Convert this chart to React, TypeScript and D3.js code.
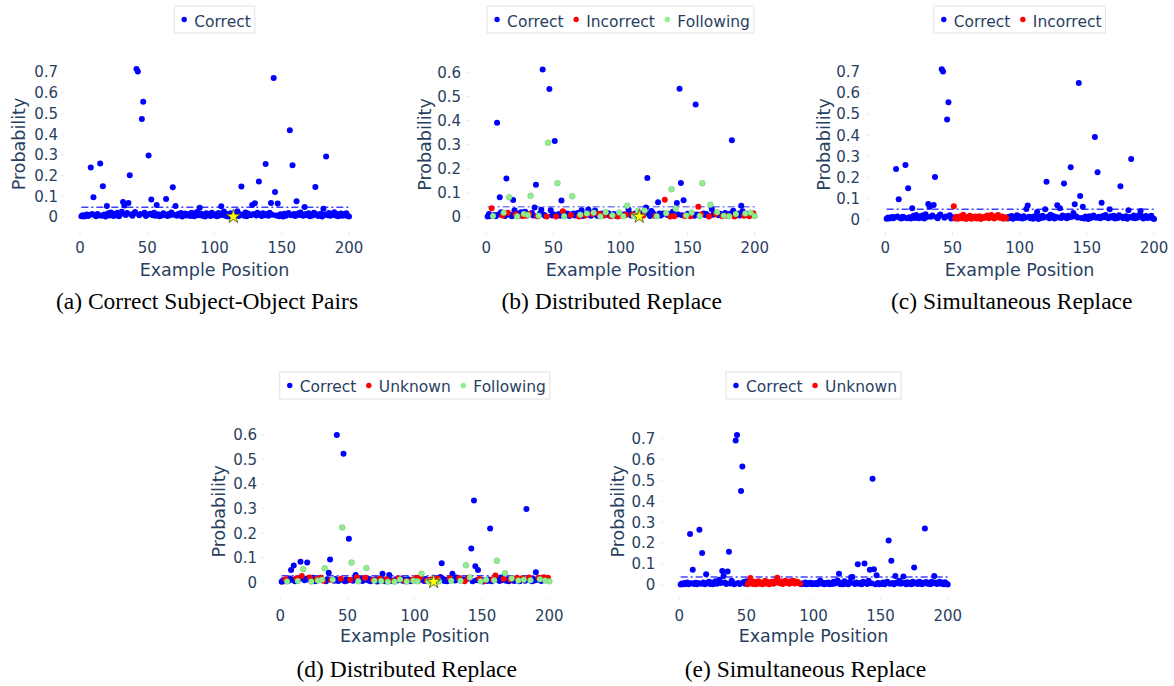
import * as d3 from "d3";

// ---- data (example positions 1..200) ----
const positions = d3.range(1, 201);

const aCorrect = [
  .004,.008,.003,.006,.012,.005,.01,.239,.015,.095,
  .008,.004,.014,.009,.258,.006,.148,.012,.003,.053,
  .018,.007,.022,.011,.005,.016,.009,.02,.004,.013,
  .025,.073,.055,.01,.019,.068,.202,.012,.006,.017,
  .024,.715,.702,.008,.014,.473,.556,.02,.005,.011,
  .297,.016,.084,.009,.021,.006,.058,.013,.004,.01,
  .007,.018,.012,.087,.005,.015,.009,.022,.144,.011,
  .053,.006,.014,.008,.019,.003,.012,.017,.007,.01,
  .015,.005,.02,.011,.004,.013,.024,.008,.045,.016,
  .006,.012,.003,.018,.009,.014,.005,.021,.01,.007,
  .013,.004,.019,.008,.052,.011,.026,.006,.015,.003,
  .012,.018,.007,.002,.016,.009,.028,.005,.013,.147,
  .011,.006,.022,.004,.017,.01,.008,.058,.015,.066,
  .007,.02,.171,.012,.005,.018,.009,.256,.014,.006,
  .021,.068,.011,.671,.121,.007,.065,.004,.013,.009,
  .003,.016,.006,.011,.019,.419,.008,.25,.014,.005,
  .076,.017,.01,.022,.012,.006,.048,.015,.009,.018,
  .004,.011,.007,.02,.145,.013,.005,.009,.016,.003,
  .04,.012,.292,.008,.019,.006,.014,.01,.023,.007,
  .015,.004,.011,.017,.006,.013,.009,.018,.005,.003,
];

const bProb = [
  .002,.012,.004,.036,.004,.008,.003,.391,.01,.082,
  .02,.006,.018,.004,.16,.018,.082,.009,.003,.071,
  .028,.01,.003,.015,.006,.02,.004,.012,.022,.005,
  .008,.012,.088,.017,.006,.039,.134,.003,.005,.014,
  .03,.612,.009,.004,.002,.308,.531,.028,.006,.011,
  .315,.002,.14,.012,.005,.068,.024,.003,.016,.009,
  .013,.004,.008,.086,.015,.006,.011,.017,.002,.009,
  .028,.004,.01,.006,.014,.031,.02,.005,.012,.018,
  .027,.009,.004,.013,.002,.015,.007,.006,.02,.011,
  .016,.005,.003,.007,.012,.009,.004,.002,.019,.008,
  .005,.003,.011,.008,.047,.031,.013,.006,.01,.004,
  .014,.007,.025,.002,.009,.016,.006,.027,.039,.162,
  .012,.004,.025,.018,.009,.004,.003,.061,.015,.006,
  .011,.015,.072,.016,.008,.012,.002,.115,.022,.003,
  .035,.058,.01,.532,.141,.007,.069,.004,.006,.013,
  .009,.003,.018,.012,.005,.466,.01,.043,.004,.01,
  .14,.015,.008,.012,.006,.002,.051,.033,.009,.016,
  .012,.02,.007,.013,.01,.003,.005,.017,.009,.004,
  .003,.014,.318,.026,.002,.012,.008,.015,.006,.047,
  .024,.005,.014,.009,.013,.003,.018,.008,.016,.004,
];

const cProb = [
  .003,.009,.004,.007,.011,.005,.01,.239,.013,.095,
  .006,.004,.012,.008,.258,.005,.147,.01,.004,.052,
  .017,.006,.02,.01,.005,.015,.008,.019,.004,.024,
  .011,.073,.06,.012,.018,.068,.201,.01,.005,.016,
  .023,.713,.702,.007,.013,.474,.556,.019,.004,.01,
  .062,.004,.012,.003,.008,.015,.005,.022,.009,.002,
  .011,.006,.017,.003,.01,.007,.013,.004,.009,.015,
  .002,.011,.006,.008,.014,.018,.005,.01,.02,.012,
  .004,.009,.016,.021,.008,.006,.013,.003,.01,.005,
  .004,.012,.007,.016,.003,.011,.008,.019,.006,.013,
  .009,.004,.015,.007,.049,.066,.012,.005,.01,.003,
  .014,.008,.035,.002,.011,.006,.017,.009,.048,.179,
  .012,.005,.022,.008,.016,.004,.011,.067,.009,.052,
  .006,.018,.17,.013,.005,.017,.01,.247,.012,.03,
  .071,.015,.008,.648,.111,.006,.06,.004,.013,.009,
  .002,.014,.006,.01,.018,.391,.007,.223,.012,.005,
  .079,.016,.01,.021,.011,.005,.048,.014,.008,.017,
  .004,.01,.006,.019,.157,.012,.005,.008,.015,.003,
  .043,.011,.287,.007,.018,.005,.013,.009,.02,.04,
  .014,.004,.01,.016,.006,.012,.008,.017,.005,.002,
];

const dProb = [
  .002,.008,.004,.012,.003,.006,.015,.05,.01,.068,
  .004,.016,.005,.012,.084,.026,.053,.008,.014,.08,
  .011,.02,.003,.018,.009,.004,.012,.007,.015,.019,
  .01,.006,.057,.004,.012,.039,.093,.009,.01,.006,
  .013,.599,.005,.008,.014,.223,.523,.004,.011,.007,
  .177,.01,.08,.006,.012,.03,.021,.004,.009,.014,
  .005,.011,.018,.058,.008,.013,.004,.01,.009,.006,
  .012,.003,.008,.015,.005,.035,.011,.004,.012,.002,
  .03,.009,.005,.006,.002,.012,.007,.016,.011,.014,
  .006,.01,.004,.003,.012,.008,.004,.009,.006,.011,
  .018,.004,.007,.02,.035,.01,.005,.013,.006,.004,
  .009,.011,.005,.002,.008,.012,.015,.004,.022,.077,
  .013,.005,.01,.004,.009,.016,.006,.035,.011,.007,
  .02,.012,.017,.006,.009,.011,.004,.069,.014,.018,
  .02,.137,.004,.333,.065,.008,.05,.013,.004,.009,
  .003,.006,.01,.005,.011,.219,.004,.012,.008,.028,
  .088,.011,.005,.02,.009,.013,.037,.006,.012,.004,
  .011,.015,.008,.005,.012,.018,.007,.004,.011,.016,
  .01,.006,.298,.012,.02,.008,.004,.014,.007,.041,
  .01,.019,.012,.005,.009,.021,.007,.011,.018,.004,
];

const eProb = [
  .002,.007,.004,.01,.005,.012,.003,.243,.008,.073,
  .005,.011,.004,.009,.264,.006,.153,.012,.003,.051,
  .008,.016,.005,.012,.004,.01,.018,.006,.011,.025,
  .009,.067,.043,.012,.005,.064,.159,.007,.02,.011,
  .004,.689,.716,.009,.005,.449,.565,.014,.006,.018,
  .003,.012,.033,.008,.005,.015,.004,.01,.018,.006,
  .012,.003,.009,.02,.007,.014,.004,.011,.016,.006,
  .01,.022,.034,.012,.008,.017,.005,.013,.02,.009,
  .015,.006,.018,.011,.02,.007,.013,.015,.009,.006,
  .003,.008,.005,.012,.004,.009,.006,.011,.003,.008,
  .005,.01,.004,.013,.02,.007,.011,.004,.009,.006,
  .012,.003,.008,.005,.015,.007,.012,.022,.054,.004,
  .009,.003,.018,.006,.011,.004,.014,.037,.038,.008,
  .005,.012,.099,.006,.01,.004,.016,.103,.009,.005,
  .02,.073,.008,.507,.075,.004,.046,.01,.003,.007,
  .005,.012,.004,.009,.016,.212,.006,.116,.01,.004,
  .043,.012,.008,.02,.006,.011,.04,.009,.004,.013,
  .006,.01,.003,.015,.084,.007,.012,.005,.016,.009,
  .004,.011,.27,.014,.006,.01,.004,.016,.008,.043,
  .012,.005,.009,.016,.006,.011,.004,.013,.007,.002,
];

// positions replaced in the "distributed" runs, and the ones that follow them
const distReplacedPos = [
  4, 12, 16, 22, 27, 30, 32, 38, 45, 52, 57, 63, 69, 74, 79, 84, 88, 93, 98, 101,
  104, 109, 112, 117, 126, 133, 137, 140, 148, 152, 158, 160, 166, 171, 176, 180, 185, 192, 196, 199,
];
const distFollowingPos = [
  5, 13, 17, 23, 28, 31, 33, 39, 46, 53, 58, 64, 70, 75, 80, 85, 89, 94, 99, 102,
  105, 110, 113, 118, 127, 134, 138, 141, 149, 153, 159, 161, 167, 172, 177, 181, 186, 193, 197, 200,
];
// positions replaced in the "simultaneous" runs
const simReplacedPos = [
  51, 52, 53, 54, 55, 56, 57, 58, 59, 60, 61, 62, 63, 64, 65, 66, 67, 68, 69, 70,
  71, 72, 73, 74, 75, 76, 77, 78, 79, 80, 81, 82, 83, 84, 85, 86, 87, 88, 89, 90,
];

const thresholds = [0.047, 0.043, 0.0475, 0.027, 0.038];
const starPos = 114;
const starProb = 0.002;

const captions = [
  "(a) Correct Subject-Object Pairs",
  "(b) Distributed Replace",
  "(c) Simultaneous Replace",
  "(d) Distributed Replace",
  "(e) Simultaneous Replace",
];

const yTicks07 = [0, 0.1, 0.2, 0.3, 0.4, 0.5, 0.6, 0.7];
const yTicks06 = [0, 0.1, 0.2, 0.3, 0.4, 0.5, 0.6];
const xTicks = [0, 50, 100, 150, 200];

const BLUE = "#0000ff";
const RED = "#ff0000";
const GREEN = "#90ee90";
const TEXT = "#2a3f5f";
const FONT = "'DejaVu Sans', Verdana, sans-serif";

// ---- layout of each subplot (pixels) ----
const TOP = { tickBase: 252.5, titleBase: 275.5, legendTop: 6, legendBase: 26.5, capBase: 308.5, tickMarkY: 232 };
const BOT = { tickBase: 620.5, titleBase: 642, legendTop: 372, legendBase: 392, capBase: 677, tickMarkY: 598 };

const LAYOUT = [
  { ...TOP, x0: 80, x200: 349, y0: 217, yTopPx: 72, yTicks: yTicks07, tickRight: 58, probX: 19, probY: 144, capX: 207 },
  { ...TOP, x0: 486.3, x200: 754.7, y0: 217, yTopPx: 72.3, yTicks: yTicks06, tickRight: 461, probX: 424.7, probY: 144.5, capX: 611.7 },
  { ...TOP, x0: 885.3, x200: 1154, y0: 219.3, yTopPx: 72, yTicks: yTicks07, tickRight: 860, probX: 823.8, probY: 144.5, capX: 1011.7 },
  { ...BOT, x0: 280.3, x200: 549.3, y0: 582.3, yTopPx: 434.7, yTicks: yTicks06, tickRight: 257, probX: 218.3, probY: 511.3, capX: 406.7 },
  { ...BOT, x0: 679.3, x200: 947.7, y0: 585, yTopPx: 438.3, yTicks: yTicks07, tickRight: 655.3, probX: 617.5, probY: 511.3, capX: 805.5 },
];

type Series = { name: string; color: string; pts: [number, number][] };

const pick = (vals: number[], keep: (p: number) => boolean): [number, number][] =>
  positions.filter(keep).map((p) => [p, vals[p - 1]] as [number, number]);

const inList = (list: number[]) => (p: number) => list.includes(p);
const notIn = (...lists: number[][]) => (p: number) => !lists.some((l) => l.includes(p));

const PANEL_SERIES: Series[][] = [
  [{ name: "Correct", color: BLUE, pts: pick(aCorrect, () => true) }],
  [
    { name: "Correct", color: BLUE, pts: pick(bProb, notIn(distReplacedPos, distFollowingPos)) },
    { name: "Incorrect", color: RED, pts: pick(bProb, inList(distReplacedPos)) },
    { name: "Following", color: GREEN, pts: pick(bProb, inList(distFollowingPos)) },
  ],
  [
    { name: "Correct", color: BLUE, pts: pick(cProb, notIn(simReplacedPos)) },
    { name: "Incorrect", color: RED, pts: pick(cProb, inList(simReplacedPos)) },
  ],
  [
    { name: "Correct", color: BLUE, pts: pick(dProb, notIn(distReplacedPos, distFollowingPos)) },
    { name: "Unknown", color: RED, pts: pick(dProb, inList(distReplacedPos)) },
    { name: "Following", color: GREEN, pts: pick(dProb, inList(distFollowingPos)) },
  ],
  [
    { name: "Correct", color: BLUE, pts: pick(eProb, notIn(simReplacedPos)) },
    { name: "Unknown", color: RED, pts: pick(eProb, inList(simReplacedPos)) },
  ],
];
const STAR_PANELS = [true, true, false, true, false];

const ctx = document.createElement("canvas").getContext("2d");
const textWidth = (t: string, font: string) => {
  if (!ctx) return t.length * 8;
  ctx.font = font;
  return ctx.measureText(t).width;
};

const starPath = d3.symbol(d3.symbolStar).size(60)();

function Panel({ i }: { i: number }) {
  const L = LAYOUT[i];
  const series = PANEL_SERIES[i];
  const yMax = L.yTicks[L.yTicks.length - 1];
  const x = d3.scaleLinear().domain([0, 200]).range([L.x0, L.x200]);
  const y = d3.scaleLinear().domain([0, yMax]).range([L.y0, L.yTopPx]);
  const cx = (L.x0 + L.x200) / 2;

  // legend layout
  const legFont = `15.5px ${FONT}`;
  const widths = series.map((s) => textWidth(s.name, legFont));
  const legW = 10 + d3.sum(widths, (w) => 10 + w) + 12.5 * (series.length - 1) + 4;
  let cursor = cx - legW / 2 + 10;
  const legItems = series.map((s, k) => {
    const item = { s, dotX: cursor, textX: cursor + 10 };
    cursor += 10 + widths[k] + 12.5;
    return item;
  });

  return (
    <g>
      {/* faint tick marks */}
      {L.yTicks.map((t) => (
        <line key={"yt" + t} x1={L.x0 - 19} x2={L.x0 - 16} y1={y(t)} y2={y(t)} stroke="#e6e9ef" strokeWidth={1} />
      ))}
      {xTicks.map((t) => (
        <line key={"xt" + t} x1={x(t)} x2={x(t)} y1={L.tickMarkY} y2={L.tickMarkY + 3} stroke="#e6e9ef" strokeWidth={1} />
      ))}
      {/* axis tick labels */}
      {L.yTicks.map((t) => (
        <text key={"yl" + t} x={L.tickRight} y={y(t)} dy="0.36em" textAnchor="end" fontSize={15} fill={TEXT} fontFamily={FONT}>
          {+t.toFixed(1)}
        </text>
      ))}
      {xTicks.map((t) => (
        <text key={"xl" + t} x={x(t)} y={L.tickBase} textAnchor="middle" fontSize={15} fill={TEXT} fontFamily={FONT}>
          {t}
        </text>
      ))}
      <text x={cx} y={L.titleBase} textAnchor="middle" fontSize={17.5} fill={TEXT} fontFamily={FONT}>
        Example Position
      </text>
      <text
        transform={`translate(${L.probX},${L.probY}) rotate(-90)`}
        dy="0.36em"
        textAnchor="middle"
        fontSize={17.5}
        fill={TEXT}
        fontFamily={FONT}
      >
        Probability
      </text>

      {/* threshold line */}
      <line
        x1={x(1)}
        x2={x(200)}
        y1={y(thresholds[i])}
        y2={y(thresholds[i])}
        stroke={BLUE}
        strokeOpacity={i === 1 ? 0.5 : 0.75}
        strokeWidth={1.5}
        strokeDasharray="7,3,2,3"
      />

      {/* points */}
      {series.map((s) => (
        <g key={s.name}>
          {s.pts.map(([p, v]) => (
            <circle
              key={p}
              cx={x(p)}
              cy={y(v)}
              r={3}
              fill={s.color}
              stroke={s.color === GREEN ? "rgba(60,120,60,0.35)" : "none"}
              strokeWidth={0.6}
            />
          ))}
        </g>
      ))}

      {STAR_PANELS[i] && (
        <path
          d={starPath || ""}
          transform={`translate(${x(starPos)},${y(starProb)})`}
          fill="#ffff00"
          stroke="#5a5a2a"
          strokeWidth={0.9}
        />
      )}

      {/* legend */}
      <rect x={cx - legW / 2} y={L.legendTop} width={legW} height={27} fill="#fff" stroke="#e2e2e2" strokeWidth={1} />
      {legItems.map(({ s, dotX, textX }) => (
        <g key={"lg" + s.name}>
          <circle cx={dotX} cy={L.legendTop + 13.5} r={2.7} fill={s.color} />
          <text x={textX} y={L.legendBase} fontSize={15.5} fill={TEXT} fontFamily={FONT}>
            {s.name}
          </text>
        </g>
      ))}

      {/* caption */}
      <text x={L.capX} y={L.capBase} textAnchor="middle" fontSize={23.5} fill="#000" fontFamily="'Liberation Serif', 'Times New Roman', serif">
        {captions[i]}
      </text>
    </g>
  );
}

export default function App() {
  return (
    <svg width={1174} height={686} style={{ position: "absolute", left: 0, top: 0, background: "#fff" }}>
      {LAYOUT.map((_, i) => (
        <Panel key={i} i={i} />
      ))}
    </svg>
  );
}
